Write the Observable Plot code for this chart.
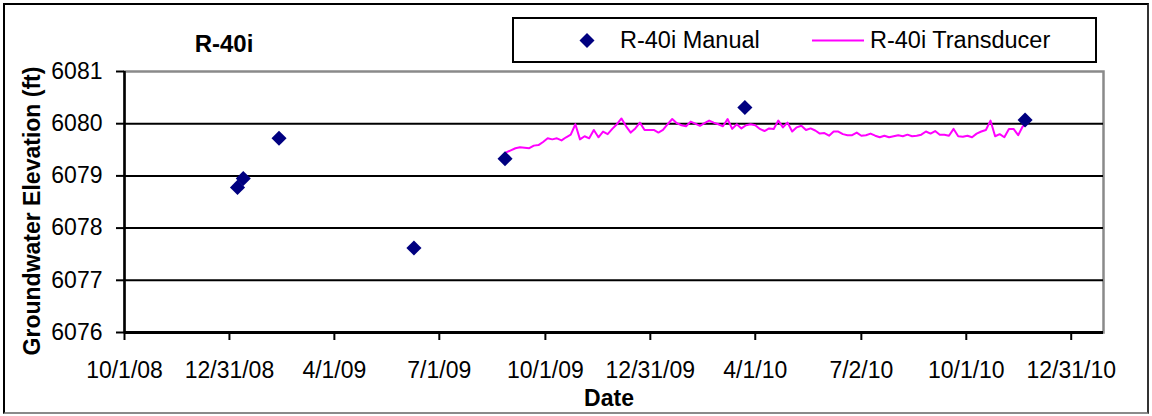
<!DOCTYPE html>
<html>
<head>
<meta charset="utf-8">
<script src="https://cdn.jsdelivr.net/npm/d3@7"></script>
<script src="https://cdn.jsdelivr.net/npm/@observablehq/plot@0.6"></script>
<style>
  html, body { margin: 0; padding: 0; background: #fff; }
  #chart { position: relative; width: 1152px; height: 416px; overflow: hidden;
           font-family: "Liberation Sans", Arial, sans-serif; color: #000; background: #fff; }
  #chart svg.plot { position: absolute; left: 0; top: 0; }
  .outer { position: absolute; left: 3px; top: 3px; width: 1146px; height: 411px; box-sizing: border-box;
           border-top: 2px solid #000; border-left: 2px solid #000; border-right: 2px solid #333; border-bottom: 2px solid #8a8a8a; }
  .title { position: absolute; left: 224px; top: 44px; transform: translate(-50%, -50%);
           font-weight: bold; font-size: 24px; white-space: nowrap; }
  .ylabel { position: absolute; left: 32px; top: 211px; transform: translate(-50%, -50%) rotate(-90deg);
            font-weight: bold; font-size: 23px; white-space: nowrap; }
  .xlabel { position: absolute; left: 609px; top: 398px; transform: translate(-50%, -50%);
            font-weight: bold; font-size: 23px; white-space: nowrap; }
  .legend { position: absolute; left: 512px; top: 17px; width: 585px; height: 46px; box-sizing: border-box;
            border: 2px solid #000; background: #fff; font-size: 23.5px; }
  .legend .item { position: absolute; top: 50%; transform: translateY(-50%); display: flex; align-items: center; white-space: nowrap; }
</style>
</head>
<body>
<div id="chart">
  <div class="outer"></div>
</div>
<script>
// ---- data ----
const manualDates  = ["2009-01-07", "2009-01-12", "2009-02-12", "2009-06-09", "2009-08-27", "2010-03-23", "2010-11-21"];
const manualValues = [6078.78, 6078.95, 6079.72, 6077.62, 6079.33, 6080.31, 6080.07];

const transducerStart = "2009-08-28";   // first logged reading
const transducerStepDays = 4;           // readings taken every 4 days
const transducerValues = [
  6079.45, 6079.49, 6079.53, 6079.55, 6079.54, 6079.53, 6079.58, 6079.59, 6079.65, 6079.72,
  6079.70, 6079.72, 6079.68, 6079.74, 6079.79, 6079.99, 6079.70, 6079.76, 6079.72, 6079.88,
  6079.74, 6079.85, 6079.80, 6079.90, 6079.99, 6080.10, 6079.95,
  6079.83, 6079.91, 6080.02, 6079.88, 6079.88, 6079.88, 6079.83, 6079.88, 6079.99, 6080.09,
  6080.01, 6079.97, 6079.95, 6080.04, 6080.00, 6079.96, 6080.01, 6080.06, 6080.02, 6079.99,
  6079.95, 6080.09, 6079.90, 6079.99, 6079.91, 6079.97, 6079.99,
  6079.97, 6079.90, 6079.86, 6079.91, 6079.90, 6080.06, 6079.93, 6080.02, 6079.85, 6079.93,
  6079.96, 6079.88, 6079.91, 6079.87, 6079.81, 6079.82, 6079.77, 6079.85, 6079.85, 6079.80,
  6079.78, 6079.78, 6079.83, 6079.77, 6079.78, 6079.81, 6079.77,
  6079.74, 6079.77, 6079.74, 6079.76, 6079.78, 6079.76, 6079.79, 6079.76, 6079.77, 6079.79,
  6079.85, 6079.81, 6079.86, 6079.79, 6079.79, 6079.77, 6079.90, 6079.76, 6079.75, 6079.77,
  6079.74, 6079.81, 6079.85, 6079.88, 6080.06, 6079.76, 6079.80, 6079.74, 6079.90, 6079.90,
  6079.78, 6079.95, 6080.01
];

const xTickLabels = ["10/1/08", "12/31/08", "4/1/09", "7/1/09", "10/1/09", "12/31/09", "4/1/10", "7/2/10", "10/1/10", "12/31/10"];
const yTicks = [6076, 6077, 6078, 6079, 6080, 6081];
const xDomainDates = ["2008-10-01", "2011-01-28"];

const titleText = "R-40i";
const manualName = "R-40i Manual";
const transducerName = "R-40i Transducer";
const yLabelText = "Groundwater Elevation (ft)";
const xLabelText = "Date";

// ---- build tables ----
const parseISO = d3.utcParse("%Y-%m-%d");
const parseTick = d3.utcParse("%m/%d/%y");
const manual = manualDates.map((d, i) => ({date: parseISO(d), value: manualValues[i]}));
const t0 = parseISO(transducerStart);
const transducer = transducerValues.map((v, i) => ({date: d3.utcDay.offset(t0, i * transducerStepDays), value: v}));
const xTicks = xTickLabels.map(s => parseTick(s));
const labelByTime = new Map(xTicks.map((d, i) => [+d, xTickLabels[i]]));
const xDomain = xDomainDates.map(parseISO);
const yDomain = [yTicks[0], yTicks[yTicks.length - 1]];
const gridValues = yTicks.slice(1, -1);

const fontFamily = '"Liberation Sans", Arial, sans-serif';

const chart = Plot.plot({
  width: 1152,
  height: 416,
  marginTop: 71,
  marginBottom: 84,
  marginLeft: 124,
  marginRight: 49,
  style: {fontFamily, fontSize: "23px", color: "#000", background: "transparent", overflow: "visible"},
  x: {type: "utc", domain: xDomain},
  y: {domain: yDomain},
  marks: [
    Plot.frame({stroke: "#8a8a8a", strokeWidth: 2.5}),
    Plot.gridY(gridValues, {stroke: "#000", strokeOpacity: 1, strokeWidth: 2}),
    Plot.ruleX([xDomain[0]], {stroke: "#000", strokeWidth: 2.5}),
    Plot.ruleY([yDomain[0]], {stroke: "#000", strokeWidth: 3}),
    Plot.axisY({ticks: yTicks, tickSize: 8, tickPadding: 14, tickFormat: d => String(d), label: null, stroke: "#000", strokeWidth: 2}),
    Plot.axisX({ticks: xTicks, tickSize: 8, tickPadding: 21, tickFormat: d => labelByTime.get(+d), label: null, stroke: "#000", strokeWidth: 2}),
    Plot.lineY(transducer, {x: "date", y: "value", stroke: "#ff00ff", strokeWidth: 2}),
    Plot.dot(manual, {x: "date", y: "value", symbol: "diamond2", r: 6.8, fill: "#000080", stroke: "none"})
  ]
});
chart.classList.add("plot");

const root = document.getElementById("chart");
root.appendChild(chart);

function addDiv(cls, text) {
  const el = document.createElement("div");
  el.className = cls;
  if (text != null) el.textContent = text;
  root.appendChild(el);
  return el;
}
addDiv("title", titleText);
addDiv("ylabel", yLabelText);
addDiv("xlabel", xLabelText);

const legend = addDiv("legend");
const item1 = document.createElement("div");
item1.className = "item";
item1.style.left = "64px";
item1.innerHTML = '<svg width="18" height="18" style="margin-right:24px"><polygon points="9,1.5 16.5,9 9,16.5 1.5,9" fill="#000080"/></svg>';
item1.appendChild(document.createTextNode(manualName));
legend.appendChild(item1);
const item2 = document.createElement("div");
item2.className = "item";
item2.style.left = "298px";
item2.innerHTML = '<svg width="52" height="10" style="margin-right:6px"><line x1="0" y1="5" x2="52" y2="5" stroke="#ff00ff" stroke-width="2"/></svg>';
item2.appendChild(document.createTextNode(transducerName));
legend.appendChild(item2);
</script>
</body>
</html>
